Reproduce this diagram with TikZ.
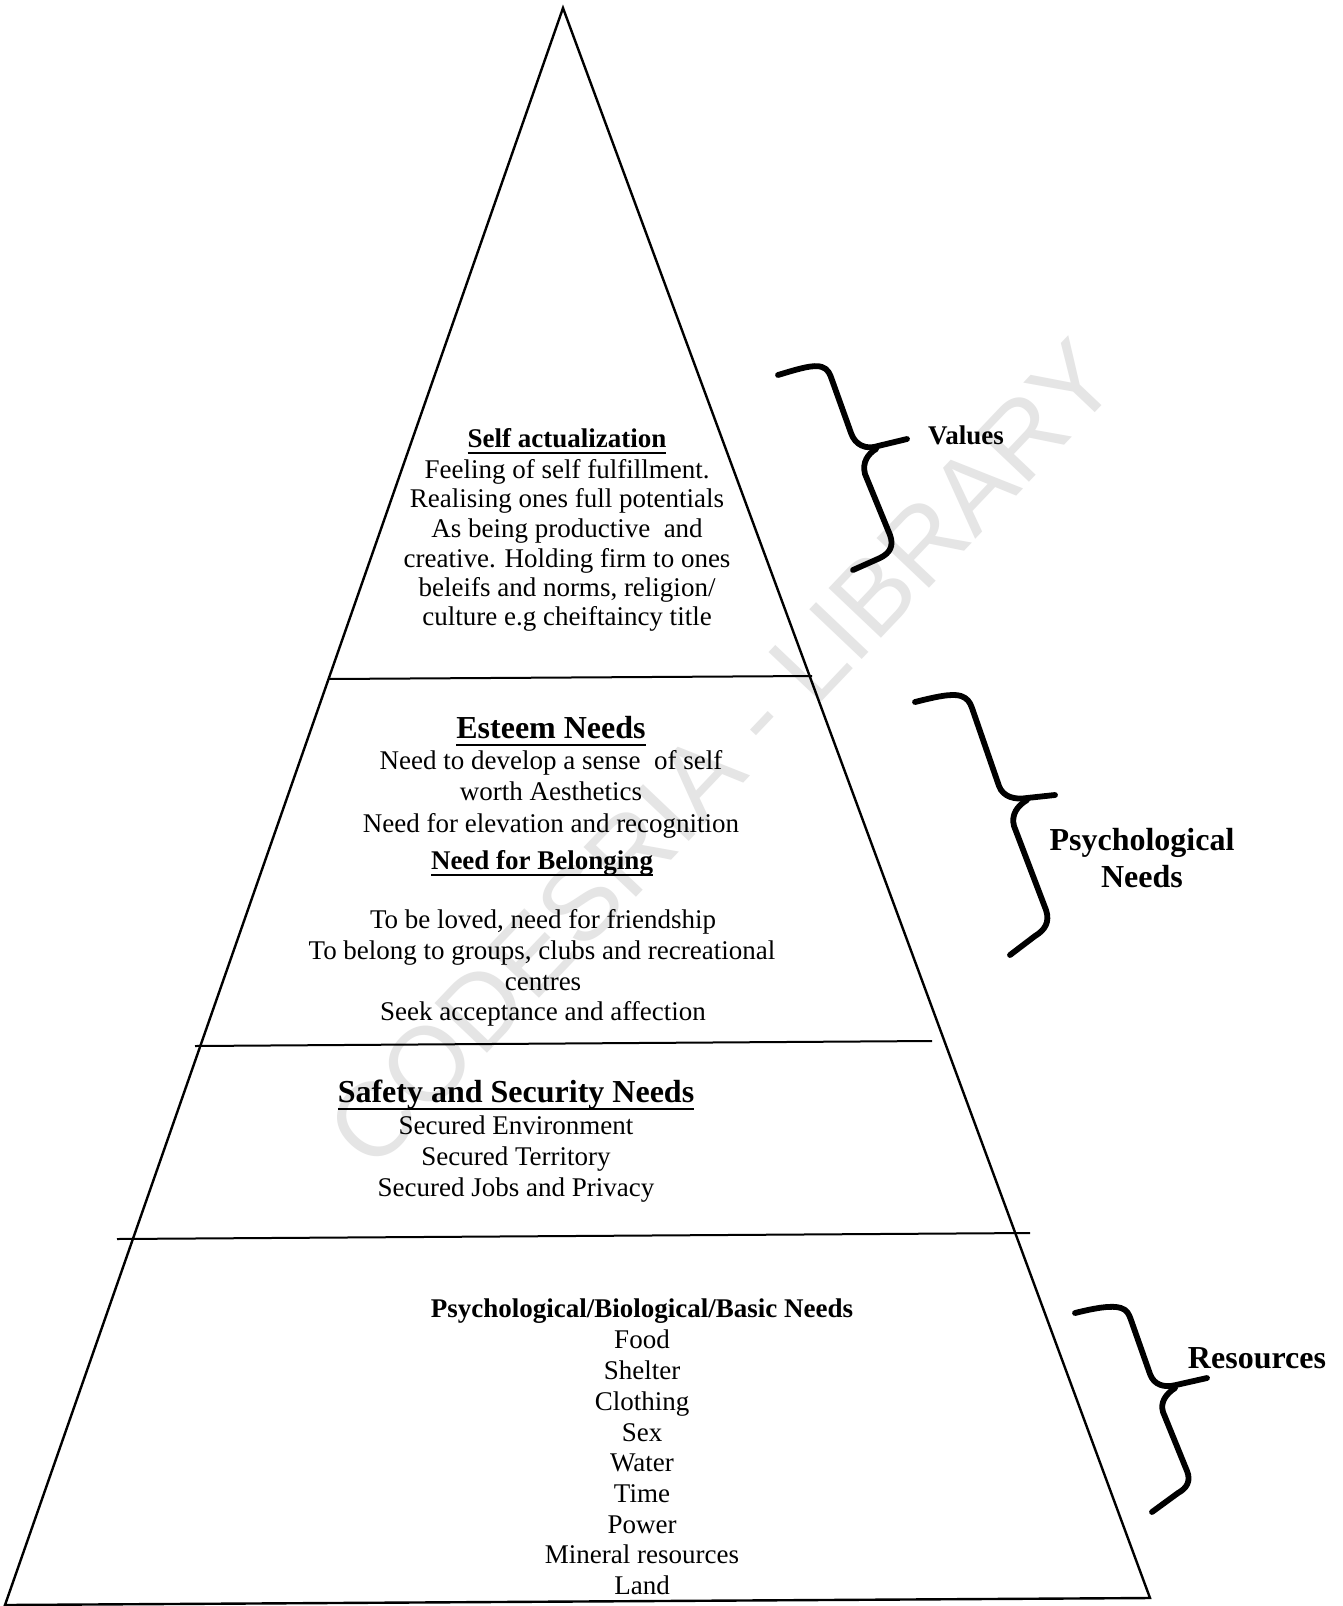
\documentclass[tikz,border=0pt]{standalone}
\usepackage{fontspec}
\setmainfont{Liberation Serif}
\newfontfamily\wmfont{Liberation Sans}
\newcommand\ulx[1]{\setbox0=\hbox{#1}\rlap{\rule[-0.25em]{\wd0}{0.07em}}\box0}
\begin{document}
\begin{tikzpicture}[x=1pt,y=-1pt,
  txt/.style={anchor=base, inner sep=0pt, font=\fontsize{27}{30}\selectfont},
  bd/.style={anchor=base, inner sep=0pt, font=\fontsize{27}{30}\selectfont\bfseries},
  hd/.style={anchor=base, inner sep=0pt, font=\fontsize{32}{36}\selectfont\bfseries},
  edge/.style={line width=2.4pt, line join=miter},
  divider/.style={line width=2pt},
  brace/.style={line width=5.8pt, line cap=round, line join=round}]
\useasboundingbox (0,0) rectangle (1343,1606);
\fill[white] (0,0) rectangle (1343,1606);

% watermark
\node[rotate=46.5, text=black!10, font=\fontsize{105}{105}\wmfont, inner sep=0pt] (wm) at (722,754) {CODESRIA - LIBRARY};

% pyramid
\coordinate (apex) at (563,8);
\coordinate (bl) at (5,1605);
\coordinate (br) at (1150,1598);
\draw[edge] (apex) -- (br) -- (bl) -- cycle;
\coordinate (d1l) at (328,679); \coordinate (d1r) at (812,676);
\coordinate (d2l) at (195,1046); \coordinate (d2r) at (932,1041);
\coordinate (d3l) at (117,1239); \coordinate (d3r) at (1030,1233);
\draw[divider] (d1l) -- (d1r);
\draw[divider] (d2l) -- (d2r);
\draw[divider] (d3l) -- (d3r);

% self actualization
\node[bd] (sa0) at (567,447) {\ulx{Self actualization}};
\node[txt] (sa1) at (567,478) {Feeling of self fulfillment.};
\node[txt] (sa2) at (567,507) {Realising ones full potentials};
\node[txt] (sa3) at (567,537) {As being productive~ and};
\node[txt] (sa4) at (567,567) {creative. Holding firm to ones};
\node[txt] (sa5) at (567,596) {beleifs and norms, religion/};
\node[txt] (sa6) at (567,625) {culture e.g cheiftaincy title};

% esteem / belonging
\node[hd] (es0) at (551,738) {\ulx{Esteem Needs}};
\node[txt] (es1) at (551,769) {Need to develop a sense~ of self};
\node[txt] (es2) at (551,800) {worth Aesthetics};
\node[txt] (es3) at (551,832) {Need for elevation and recognition};
\node[bd] (be0) at (542,869) {\ulx{Need for Belonging}};
\node[txt] (be1) at (543,928) {To be loved, need for friendship};
\node[txt] (be2) at (542,959) {To belong to groups, clubs and recreational};
\node[txt] (be3) at (543,990) {centres};
\node[txt] (be4) at (543,1020) {Seek acceptance and affection};

% safety
\node[hd] (sf0) at (516,1102) {\ulx{Safety and Security Needs}};
\node[txt] (sf1) at (516,1134) {Secured Environment};
\node[txt] (sf2) at (516,1165) {Secured Territory};
\node[txt] (sf3) at (516,1196) {Secured Jobs and Privacy};

% basic needs
\node[bd] (bn0) at (642,1317) {Psychological/Biological/Basic Needs};
\node[txt] (bn1) at (642,1348) {Food};
\node[txt] (bn2) at (642,1379) {Shelter};
\node[txt] (bn3) at (642,1410) {Clothing};
\node[txt] (bn4) at (642,1441) {Sex};
\node[txt] (bn5) at (642,1471) {Water};
\node[txt] (bn6) at (642,1502) {Time};
\node[txt] (bn7) at (642,1533) {Power};
\node[txt] (bn8) at (642,1563) {Mineral resources};
\node[txt] (bn9) at (642,1594) {Land};

% side labels
\node[bd] (values) at (966,444) {Values};
\node[hd] (psy1) at (1142,850) {Psychological};
\node[hd] (psy2) at (1142,887) {Needs};
\node[hd] (res) at (1257,1368) {Resources};

% braces
\draw[brace] (778,375) .. controls (798,369) and (814,364) .. (822,367)
  .. controls (828,369) and (830,374) .. (832,380) -- (851,433)
  .. controls (855,445) and (866,450) .. (878,446) -- (907,439);
\draw[brace] (876,449) .. controls (868,454) and (862,462) .. (865,474)
  -- (890,535) .. controls (894,546) and (890,553) .. (880,558) -- (853,570);

\draw[brace] (915,702) .. controls (935,697) and (952,693) .. (961,696)
  .. controls (967,698) and (970,702) .. (972,708) -- (999,786)
  .. controls (1003,797) and (1015,800) .. (1027,798) -- (1055,795);
\draw[brace] (1027,800) .. controls (1017,806) and (1011,815) .. (1014,826)
  -- (1046,910) .. controls (1050,922) and (1045,930) .. (1035,936) -- (1010,955);

\draw[brace] (1075,1313) .. controls (1095,1308) and (1112,1305) .. (1121,1308)
  .. controls (1127,1310) and (1129,1314) .. (1131,1320) -- (1150,1374)
  .. controls (1154,1385) and (1164,1388) .. (1176,1385) -- (1207,1378);
\draw[brace] (1175,1388) .. controls (1166,1394) and (1160,1402) .. (1163,1412)
  -- (1187,1471) .. controls (1191,1481) and (1187,1488) .. (1178,1493) -- (1152,1512);
\end{tikzpicture}
\end{document}
